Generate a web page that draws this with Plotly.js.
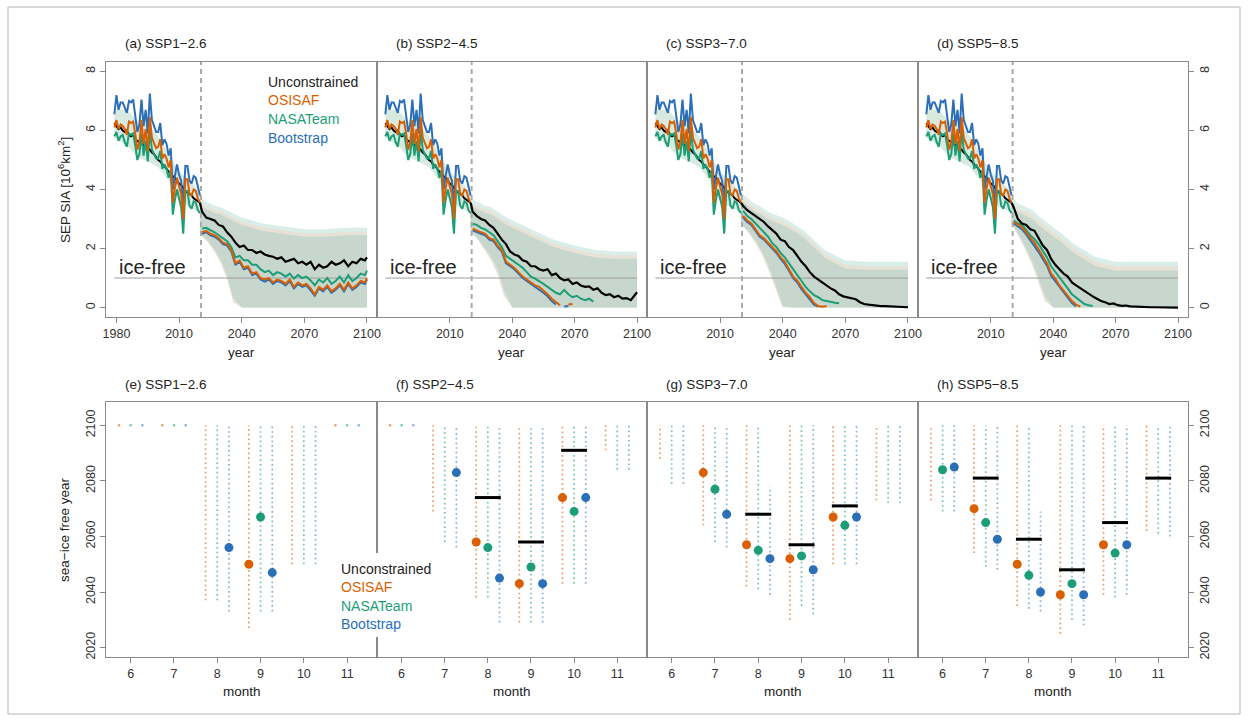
<!DOCTYPE html>
<html><head><meta charset="utf-8">
<script src="https://cdn.plot.ly/plotly-3.0.1.min.js"></script>
<style>html,body{margin:0;padding:0;background:#fff}#chart{width:1249px;height:722px}</style>
</head><body><div id="chart"></div>
<script>
const FONT = 'Liberation Sans, Arial, Helvetica, sans-serif';
const W = 1249, H = 722;

// ---------------- DATA ----------------
const scenarios = ['SSP1\u22122.6','SSP2\u22124.5','SSP3\u22127.0','SSP5\u22128.5'];
const seriesNames = ['Unconstrained','OSISAF','NASATeam','Bootstrap'];
const topTicksFirst = [1980, 2010, 2040, 2070, 2100];
const topTicksOther = [2010, 2040, 2070, 2100];
const months = [6, 7, 8, 9, 10, 11];

const histYears = [1979,1980,1981,1982,1983,1984,1985,1986,1987,1988,1989,1990,1991,1992,1993,1994,1995,1996,1997,1998,1999,2000,2001,2002,2003,2004,2005,2006,2007,2008,2009,2010,2011,2012,2013,2014,2015,2016,2017,2018,2019,2020];
const histU = [6.25,6.15,6.05,6.10,6.00,5.95,6.00,5.85,5.80,5.85,5.70,5.65,5.60,5.55,5.50,5.45,5.40,5.35,5.25,5.20,5.10,5.00,4.95,4.85,4.80,4.70,4.60,4.55,4.45,4.40,4.30,4.20,4.15,4.05,3.95,3.90,3.85,3.80,3.70,3.65,3.60,3.55];
const histB = [6.55,7.20,6.70,6.95,6.95,6.75,6.60,7.00,6.95,7.05,6.55,5.95,6.20,7.05,6.15,6.70,5.90,7.25,6.35,6.15,5.95,5.95,6.25,5.50,5.70,5.55,5.15,5.40,4.00,4.45,4.85,4.50,4.30,3.40,4.80,4.80,4.30,4.20,4.45,4.40,4.10,3.80];
const histO = [6.10,6.35,6.05,6.20,6.15,6.05,5.85,6.30,6.25,6.30,5.90,5.35,5.60,6.35,5.55,6.05,5.30,6.45,5.75,5.60,5.40,5.45,5.70,5.05,5.20,5.05,4.75,5.00,3.55,4.05,4.40,4.10,3.85,3.00,4.35,4.35,3.85,3.80,4.00,3.95,3.70,3.55];
const histN = [5.80,5.95,5.65,5.80,5.85,5.60,5.45,5.90,5.85,5.90,5.50,5.00,5.20,5.90,5.15,5.65,4.95,6.00,5.35,5.20,5.05,5.05,5.30,4.70,4.85,4.70,4.40,4.65,3.15,3.65,4.00,3.70,3.40,2.50,3.95,3.95,3.45,3.35,3.60,3.55,3.30,3.20];

const histBandYears = [1979,1985,1990,1995,2000,2005,2010,2015,2020];
const histBandUp = [6.70,6.70,6.30,6.20,5.80,5.20,4.60,4.30,3.90];
const histBandLo = [5.75,5.50,5.10,4.95,4.75,4.30,3.60,3.40,3.20];

const projYears = [2021,2023,2025,2027,2029,2031,2033,2035,2037,2039,2041,2043,2045,2047,2049,2051,2053,2055,2057,2059,2061,2063,2065,2067,2069,2071,2073,2075,2077,2079,2081,2083,2085,2087,2089,2091,2093,2095,2097,2099,2100];

// (a) SSP1-2.6
const uA = [3.25,3.05,3.00,2.95,2.80,2.75,2.55,2.40,2.20,2.05,2.10,1.95,1.95,1.85,1.90,1.80,1.75,1.72,1.65,1.70,1.55,1.60,1.65,1.50,1.55,1.45,1.55,1.30,1.45,1.35,1.40,1.55,1.45,1.50,1.60,1.40,1.55,1.50,1.65,1.60,1.70];
const oA = [2.55,2.60,2.50,2.45,2.35,2.20,2.15,1.95,1.50,1.60,1.35,1.40,1.15,1.20,1.00,0.95,1.00,0.85,0.95,0.90,0.80,0.95,0.70,0.85,0.75,0.80,0.65,0.45,0.70,0.60,0.75,0.55,0.65,0.80,0.60,0.85,0.65,0.75,0.90,0.85,1.00];
const nA = [2.68,2.70,2.62,2.55,2.45,2.35,2.25,2.05,1.70,1.75,1.60,1.60,1.45,1.45,1.30,1.20,1.25,1.10,1.20,1.15,1.05,1.15,0.98,1.10,1.00,1.05,0.92,0.75,0.95,0.85,1.00,0.80,0.90,1.05,0.85,1.10,0.90,1.00,1.15,1.10,1.25];
const bA = [2.50,2.55,2.45,2.40,2.30,2.15,2.10,1.90,1.45,1.55,1.30,1.35,1.10,1.15,0.95,0.88,0.95,0.80,0.90,0.85,0.75,0.90,0.65,0.80,0.70,0.75,0.58,0.40,0.65,0.55,0.70,0.50,0.60,0.75,0.55,0.80,0.60,0.70,0.85,0.80,0.95];
// (b) SSP2-4.5
const uB = [3.25,3.10,3.00,2.95,2.80,2.70,2.50,2.30,2.15,1.90,1.80,1.75,1.60,1.55,1.40,1.40,1.30,1.25,1.30,1.10,1.15,1.00,0.92,0.95,0.80,0.85,0.75,0.70,0.72,0.60,0.65,0.50,0.42,0.45,0.35,0.40,0.30,0.32,0.25,0.45,0.52];
const oB = [2.67,2.60,2.55,2.50,2.35,2.30,2.10,1.95,1.55,1.45,1.35,1.20,1.05,0.95,0.85,0.75,0.70,0.58,0.45,0.30,0.20,0.08,null,0.10,0.12];
const nB = [2.84,2.80,2.70,2.65,2.55,2.45,2.25,2.05,1.75,1.65,1.55,1.45,1.35,1.20,1.05,0.98,0.90,0.80,0.70,0.60,0.50,0.45,0.60,0.45,0.35,0.40,0.30,0.25,0.30,0.20];
const bB = [2.62,2.55,2.50,2.45,2.30,2.25,2.05,1.90,1.50,1.40,1.30,1.15,1.00,0.90,0.80,0.70,0.62,0.50,0.38,0.22,0.10,null,0.04,0.05];
// (c) SSP3-7.0
const uC = [3.45,3.30,3.20,3.10,2.98,2.90,2.75,2.62,2.50,2.30,2.25,2.05,1.95,1.75,1.55,1.40,1.20,1.05,0.95,0.82,0.75,0.65,0.58,0.45,0.38,0.35,0.30,0.28,0.18,0.12,0.10,0.08,0.07,0.05,0.05,0.04,0.03,0.03,0.02,0.02,0.01];
const oC = [3.10,2.95,2.85,2.65,2.45,2.35,2.20,2.05,1.90,1.70,1.55,1.30,1.05,0.90,0.70,0.50,0.35,0.15,0.05,0.03,0.05];
const nC = [3.28,3.10,3.00,2.85,2.70,2.55,2.40,2.18,2.05,1.85,1.70,1.50,1.28,1.10,0.90,0.70,0.55,0.42,0.35,0.25,0.22,0.18,0.16,0.15];
const bC = [3.05,2.90,2.80,2.60,2.40,2.30,2.15,2.00,1.85,1.65,1.48,1.25,1.00,0.85,0.62,0.45,0.28,0.10,0.03];
// (d) SSP5-8.5
const uD = [3.40,3.00,2.85,2.80,2.65,2.60,2.35,2.10,1.95,1.65,1.45,1.30,1.15,1.05,0.85,0.75,0.65,0.58,0.48,0.38,0.30,0.22,0.18,0.12,0.14,0.08,0.06,0.07,0.04,0.03,0.03,0.02,0.02,0.01,0.01,0.01,0.01,0.00,0.00,0.00,0.00];
const oD = [2.90,2.80,2.72,2.55,2.35,2.20,1.95,1.72,1.50,1.15,0.98,0.75,0.58,0.42,0.22,0.10,0.03];
const nD = [2.95,2.85,2.80,2.62,2.45,2.32,2.15,1.92,1.70,1.40,1.22,1.00,0.82,0.65,0.45,0.35,0.25,0.12,0.08,0.05];
const bD = [2.85,2.75,2.65,2.48,2.28,2.12,1.88,1.65,1.42,1.08,0.90,0.68,0.50,0.35,0.15,0.04];

// uncertainty bands (outer teal, middle beige, core)
const bandYears = [2020,2024,2027,2030,2033,2036,2040,2045,2050,2060,2070,2080,2090,2100];
const tealUpA = [3.70,3.55,3.45,3.40,3.30,3.20,3.05,2.95,2.85,2.75,2.65,2.65,2.70,2.70];
const beigeUpA = [3.57,3.42,3.32,3.27,3.17,3.07,2.92,2.82,2.72,2.62,2.52,2.52,2.57,2.57];
const coreUpA = [3.45,3.30,3.20,3.15,3.05,2.95,2.80,2.70,2.60,2.50,2.40,2.40,2.45,2.45];
const coreLoA = [2.50,2.25,1.95,1.60,1.10,0.30,0,0,0,0,0,0,0,0];
const beigeLoA = [2.48,2.20,1.88,1.50,0.95,0.18,0,0,0,0,0,0,0,0];
const tealUpB = [3.70,3.55,3.45,3.40,3.25,3.10,2.95,2.80,2.62,2.30,2.10,1.95,1.90,1.90];
const beigeUpB = [3.57,3.42,3.32,3.27,3.12,2.97,2.82,2.67,2.49,2.17,1.97,1.82,1.77,1.77];
const coreUpB = [3.45,3.30,3.20,3.15,3.00,2.85,2.70,2.55,2.37,2.05,1.85,1.70,1.65,1.65];
const coreLoB = [2.60,2.30,2.00,1.70,1.30,0.60,0,0,0,0,0,0,0,0];
const beigeLoB = [2.58,2.25,1.92,1.58,1.12,0.40,0,0,0,0,0,0,0,0];
const tealUpC = [3.90,3.65,3.50,3.40,3.25,3.15,3.05,2.85,2.62,1.95,1.60,1.55,1.55,1.55];
const beigeUpC = [3.77,3.52,3.37,3.27,3.12,3.02,2.92,2.72,2.49,1.82,1.45,1.40,1.40,1.40];
const coreUpC = [3.65,3.40,3.25,3.15,3.00,2.90,2.80,2.60,2.37,1.70,1.32,1.28,1.28,1.28];
const coreLoC = [2.85,2.55,2.25,1.90,1.45,0.90,0.05,0,0,0,0,0,0,0];
const beigeLoC = [2.83,2.50,2.18,1.80,1.30,0.72,0,0,0,0,0,0,0,0];
const tealUpD = [3.70,3.50,3.40,3.30,3.10,2.95,2.72,2.45,2.15,1.72,1.55,1.55,1.55,1.55];
const beigeUpD = [3.55,3.35,3.25,3.15,2.95,2.80,2.57,2.30,2.00,1.57,1.40,1.40,1.40,1.40];
const coreUpD = [3.40,3.20,3.10,3.00,2.80,2.65,2.42,2.15,1.85,1.42,1.25,1.25,1.25,1.25];
const coreLoD = [2.85,2.40,2.00,1.55,1.00,0.40,0,0,0,0,0,0,0,0];
const beigeLoD = [2.83,2.33,1.90,1.42,0.82,0.22,0,0,0,0,0,0,0,0];

// sea-ice-free year: ranges (lo..hi) and medians per month (6..11)
const eOlo = [2100,2100,2037,2027,2050,2100], eOhi = [2100,2100,2100,2100,2100,2100], eOmed = [null,null,null,2050,null,null];
const eNlo = [2100,2100,2037,2033,2050,2100], eNhi = [2100,2100,2100,2100,2100,2100], eNmed = [null,null,null,2067,null,null];
const eBlo = [2100,2100,2033,2033,2050,2100], eBhi = [2100,2100,2100,2100,2100,2100], eBmed = [null,null,2056,2047,null,null];
const eU = [null,null,null,null,null,null];

const fOlo = [2100,2069,2038,2029,2043,2091], fOhi = [2100,2100,2100,2100,2100,2100], fOmed = [null,null,2058,2043,2074,null];
const fNlo = [2100,2058,2038,2029,2043,2084], fNhi = [2100,2100,2100,2100,2100,2100], fNmed = [null,null,2056,2049,2069,null];
const fBlo = [2100,2056,2029,2029,2043,2084], fBhi = [2100,2100,2100,2100,2100,2100], fBmed = [null,2083,2045,2043,2074,null];
const fU = [null,null,2074,2058,2091,null];

const gOlo = [2088,2064,2042,2030,2050,2073], gOhi = [2100,2100,2100,2100,2100,2100], gOmed = [null,2083,2057,2052,2067,null];
const gNlo = [2079,2058,2041,2035,2050,2072], gNhi = [2100,2100,2100,2100,2100,2100], gNmed = [null,2077,2055,2053,2064,null];
const gBlo = [2079,2056,2039,2032,2050,2072], gBhi = [2100,2100,2078,2100,2100,2100], gBmed = [null,2068,2052,2048,2067,null];
const gU = [null,null,2068,2057,2071,null];

const hOlo = [2073,2054,2035,2025,2039,2062], hOhi = [2100,2100,2100,2100,2100,2100], hOmed = [null,2070,2050,2039,2057,null];
const hNlo = [2069,2049,2034,2030,2038,2061], hNhi = [2100,2100,2100,2100,2100,2100], hNmed = [2084,2065,2046,2043,2054,null];
const hBlo = [2069,2048,2033,2028,2039,2060], hBhi = [2100,2100,2069,2100,2100,2100], hBmed = [2085,2059,2040,2039,2057,null];
const hU = [null,2081,2059,2048,2065,2081];

// ---------------- STYLE ----------------
const colU = '#000000', colO = '#D95F02', colN = '#1B9E77', colB = '#2a6fb8';
const dotO = 'rgba(217,95,2,0.6)', dotN = 'rgba(27,158,119,0.6)', dotB = 'rgba(42,111,184,0.55)';
const panelPx = [[106,377],[377,647],[647,918],[918,1188]];
const topPx = [62,317], botPx = [402,657];
const fx = p => p / W, fy = p => 1 - p / H;

const topSets = [
  {u:uA,o:oA,n:nA,b:bA,tu:tealUpA,eu:beigeUpA,cu:coreUpA,cl:coreLoA,el:beigeLoA},
  {u:uB,o:oB,n:nB,b:bB,tu:tealUpB,eu:beigeUpB,cu:coreUpB,cl:coreLoB,el:beigeLoB},
  {u:uC,o:oC,n:nC,b:bC,tu:tealUpC,eu:beigeUpC,cu:coreUpC,cl:coreLoC,el:beigeLoC},
  {u:uD,o:oD,n:nD,b:bD,tu:tealUpD,eu:beigeUpD,cu:coreUpD,cl:coreLoD,el:beigeLoD}
];
const botSets = [
  {O:[eOlo,eOhi,eOmed],N:[eNlo,eNhi,eNmed],B:[eBlo,eBhi,eBmed],U:eU},
  {O:[fOlo,fOhi,fOmed],N:[fNlo,fNhi,fNmed],B:[fBlo,fBhi,fBmed],U:fU},
  {O:[gOlo,gOhi,gOmed],N:[gNlo,gNhi,gNmed],B:[gBlo,gBhi,gBmed],U:gU},
  {O:[hOlo,hOhi,hOmed],N:[hNlo,hNhi,hNmed],B:[hBlo,hBhi,hBmed],U:hU}
];

const traces = [];
const ax = k => (k === 1 ? '' : String(k));

function band(xa, ya, xs, lo, hi, color) {
  traces.push({x: xs, y: lo, xaxis: xa, yaxis: ya, mode: 'lines', line: {width: 0, color: color}, hoverinfo: 'skip'});
  traces.push({x: xs, y: hi, xaxis: xa, yaxis: ya, mode: 'lines', line: {width: 0, color: color}, fill: 'tonexty', fillcolor: color, hoverinfo: 'skip'});
}

topSets.forEach((s, i) => {
  const xa = 'x' + ax(i + 1), ya = 'y' + ax(i + 1);
  band(xa, ya, histBandYears, histBandLo, histBandUp, '#d8e9e0');
  band(xa, ya, bandYears, s.cl, s.tu, '#daeee9');
  band(xa, ya, bandYears, s.el, s.eu, '#e6e2d6');
  band(xa, ya, bandYears, s.cl, s.cu, '#c8d7cd');
  traces.push({x: [histYears[0], 2100], y: [1, 1], xaxis: xa, yaxis: ya, mode: 'lines', line: {color: '#9c9c9c', width: 1}, hoverinfo: 'skip'});
  traces.push({x: [2020.5, 2020.5], y: [-0.32, 8.32], xaxis: xa, yaxis: ya, mode: 'lines', line: {color: '#aaaaaa', width: 2, dash: '5px,4px'}, hoverinfo: 'skip'});
  traces.push({x: histYears, y: histU, xaxis: xa, yaxis: ya, mode: 'lines', line: {color: colU, width: 2}});
  [[histB, s.b, colB], [histN, s.n, colN], [histO, s.o, colO]].forEach(([h, p, c]) => {
    traces.push({x: histYears.concat([null], projYears), y: h.concat([null], p), xaxis: xa, yaxis: ya, mode: 'lines', line: {color: c, width: 2}, connectgaps: false});
  });
  traces.push({x: [histYears[histYears.length - 1]].concat(projYears), y: [histU[histU.length - 1]].concat(s.u), xaxis: xa, yaxis: ya, mode: 'lines', line: {color: colU, width: 2.2}});
});

const offs = {O: -0.27, N: 0, B: 0.27};
const dotCols = {O: dotO, N: dotN, B: dotB};
const solidCols = {O: colO, N: colN, B: colB};
botSets.forEach((s, i) => {
  const xa = 'x' + ax(i + 5), ya = 'y' + ax(i + 5);
  ['O', 'N', 'B'].forEach(p => {
    const [lo, hi, med] = s[p];
    const lx = [], ly = [], px = [], py = [];
    months.forEach((m, k) => {
      if (lo[k] < hi[k]) { lx.push(m + offs[p], m + offs[p], null); ly.push(lo[k], hi[k], null); }
      else { px.push(m + offs[p]); py.push(hi[k]); }
    });
    traces.push({x: lx, y: ly, xaxis: xa, yaxis: ya, mode: 'lines', line: {color: dotCols[p], width: 1.7, dash: '1.7px,3px'}, hoverinfo: 'skip'});
    traces.push({x: px, y: py, xaxis: xa, yaxis: ya, mode: 'markers', marker: {color: dotCols[p], size: 2.5}, hoverinfo: 'skip'});
  });
  const bx = [], by = [];
  months.forEach((m, k) => { if (s.U[k] !== null) { bx.push(m - 0.3, m + 0.3, null); by.push(s.U[k], s.U[k], null); } });
  traces.push({x: bx, y: by, xaxis: xa, yaxis: ya, mode: 'lines', line: {color: colU, width: 3}});
  ['O', 'N', 'B'].forEach(p => {
    traces.push({x: months.map(m => m + offs[p]), y: s[p][2], xaxis: xa, yaxis: ya, mode: 'markers', marker: {color: solidCols[p], size: 9}});
  });
});

// ---------------- LAYOUT ----------------
const tickfont = {family: FONT, size: 12.5, color: '#333'};
const baseAx = {showline: true, mirror: true, linecolor: '#8c8886', linewidth: 1.4, ticks: 'outside', ticklen: 5, tickwidth: 1, tickcolor: '#8c8886',
  showgrid: false, zeroline: false, tickfont: tickfont, fixedrange: true};
const layout = {width: W, height: H, margin: {l: 0, r: 0, t: 0, b: 0}, paper_bgcolor: '#fff', plot_bgcolor: '#fff', showlegend: false,
  font: {family: FONT}, annotations: [], shapes: []};

for (let i = 0; i < 8; i++) {
  const top = i < 4, col = i % 4;
  const xk = 'xaxis' + ax(i + 1), yk = 'yaxis' + ax(i + 1);
  const xd = [fx(panelPx[col][0]), fx(panelPx[col][1])];
  const rows = top ? topPx : botPx;
  const yd = [fy(rows[1]), fy(rows[0])];
  const tv = col === 0 ? topTicksFirst : topTicksOther;
  layout[xk] = Object.assign({}, baseAx, {domain: xd, anchor: 'y' + ax(i + 1)},
    top ? {range: [1975.0, 2104.8], tickvals: tv, ticktext: tv.map(String)}
        : {range: [5.43, 11.69], tickvals: months, ticktext: months.map(String)});
  const yax = Object.assign({}, baseAx, {domain: yd, anchor: 'x' + ax(i + 1)},
    top ? {range: [-0.32, 8.32], tickvals: [0, 2, 4, 6, 8]} : {range: [2016.6, 2108.4], tickvals: [2020, 2040, 2060, 2080, 2100]});
  yax.tickangle = -90;
  if (col === 1 || col === 2) { yax.ticks = ''; yax.showticklabels = false; }
  if (col === 3) { yax.side = 'right'; }
  layout[yk] = yax;
}

const A = layout.annotations;
function txt(text, xpx, ypx, opts) {
  A.push(Object.assign({text: text, x: fx(xpx), y: fy(ypx), xref: 'paper', yref: 'paper', showarrow: false,
    xanchor: 'left', yanchor: 'middle', font: {family: FONT, size: 14, color: '#222'}}, opts || {}));
}
const letters = ['a','b','c','d','e','f','g','h'];
for (let i = 0; i < 8; i++) {
  const col = i % 4;
  txt('(' + letters[i] + ') ' + scenarios[col], panelPx[col][0] + 17, i < 4 ? 44 : 384, {font: {family: FONT, size: 13.5, color: '#222'}});
  const cx = (panelPx[col][0] + panelPx[col][1]) / 2;
  txt(i < 4 ? 'year' : 'month', cx, i < 4 ? 352 : 691, {xanchor: 'center', font: {family: FONT, size: 13.5, color: '#222'}});
  if (i < 4) txt('ice-free', panelPx[col][0] + 11, 267, {font: {family: FONT, size: 20, color: '#222'}});
}
const legCols = ['#222', colO, colN, colB];
seriesNames.forEach((n, k) => {
  txt(n, 266, 82 + k * 18.5, {font: {family: FONT, size: 14, color: legCols[k]}});
  txt(n, 339, 569 + k * 18.4, {font: {family: FONT, size: 14, color: legCols[k]}});
});
txt('SEP SIA [10<sup>6</sup>km<sup>2</sup>]', 64, 190, {xanchor: 'center', textangle: -90, font: {family: FONT, size: 13.5, color: '#222'}});
txt('sea\u2212ice free year', 64, 530, {xanchor: 'center', textangle: -90, font: {family: FONT, size: 13.5, color: '#222'}});

layout.shapes.push({type: 'rect', xref: 'paper', yref: 'paper', x0: fx(336), x1: fx(440), y0: fy(637), y1: fy(553), line: {width: 0}, fillcolor: '#fff', layer: 'above'});
layout.shapes.push({type: 'rect', xref: 'paper', yref: 'paper', x0: fx(8), x1: fx(1240), y0: fy(714), y1: fy(7), line: {width: 1, color: '#b5b5b5'}, layer: 'below'});

Plotly.newPlot('chart', traces, layout, {staticPlot: true, displayModeBar: false});
</script></body></html>
